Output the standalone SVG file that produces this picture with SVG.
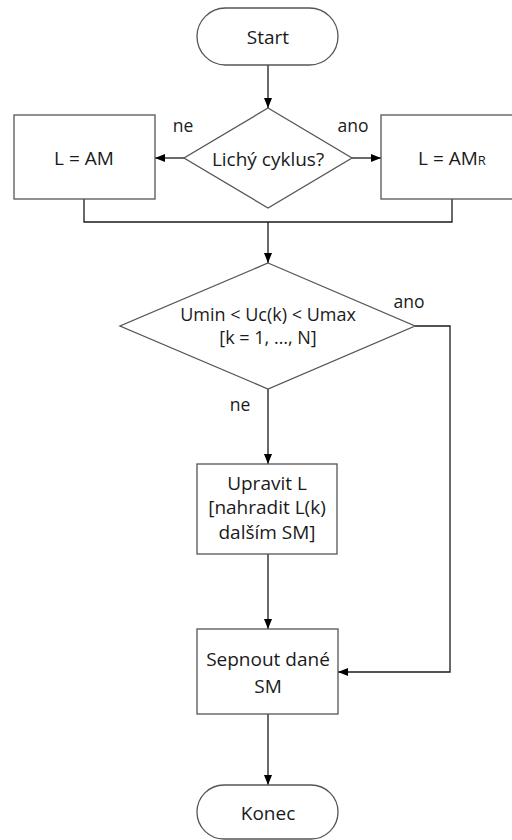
<svg xmlns="http://www.w3.org/2000/svg" width="512" height="840" viewBox="0 0 512 840">
  <style>
    .shape { fill: #ffffff; stroke: #555555; stroke-width: 1.3; }
    .conn { fill: none; stroke: #1a1a1a; stroke-width: 1.3; }
    text { font-family: "Open Sans", "Noto Sans", sans-serif; font-size: 19px; fill: #1a1a1a; text-anchor: middle; }
    .lbl { font-size: 17.5px; }
    .narrow { font-size: 18px; }
  </style>
  <defs>
    <marker id="arrow" viewBox="0 0 10 10" refX="10" refY="5" markerWidth="10" markerHeight="10" markerUnits="userSpaceOnUse" orient="auto">
      <path d="M0,1 L10,5 L0,9 z" fill="#000000"/>
    </marker>
  </defs>

  <rect width="512" height="840" fill="#ffffff"/>

  <g id="connectors">
    <line class="conn" x1="268" y1="65" x2="268" y2="108" marker-end="url(#arrow)"/>
    <line class="conn" x1="184" y1="158" x2="155" y2="158" marker-end="url(#arrow)"/>
    <line class="conn" x1="352" y1="158" x2="381" y2="158" marker-end="url(#arrow)"/>
    <polyline class="conn" points="84,199 84,222 452,222 452,199"/>
    <line class="conn" x1="268" y1="222" x2="268" y2="263" marker-end="url(#arrow)"/>
    <line class="conn" x1="268" y1="389" x2="268" y2="464" marker-end="url(#arrow)"/>
    <polyline class="conn" points="415,326 450,326 450,672 338,672" marker-end="url(#arrow)"/>
    <line class="conn" x1="268" y1="554" x2="268" y2="629" marker-end="url(#arrow)"/>
    <line class="conn" x1="268" y1="714" x2="268" y2="785" marker-end="url(#arrow)"/>
    <text class="lbl" x="183" y="132">ne</text>
    <text class="lbl" x="353" y="132">ano</text>
    <text class="lbl" x="409" y="308">ano</text>
    <text class="lbl" x="240" y="411">ne</text>
  </g>

  <g id="start">
    <rect class="shape" x="197" y="8" width="141" height="57" rx="28.5"/>
    <text x="268" y="44">Start</text>
  </g>

  <g id="decision-odd">
    <polygon class="shape" points="268,108 352,158 268,208 184,158"/>
    <text x="268" y="166">Lichý cyklus?</text>
  </g>

  <g id="set-am">
    <rect class="shape" x="14" y="115" width="141" height="84"/>
    <text x="84" y="165">L = AM</text>
  </g>

  <g id="set-amr">
    <rect class="shape" x="381" y="115" width="141" height="84"/>
    <text x="452" y="165">L = AM<tspan font-size="13">R</tspan></text>
  </g>

  <g id="decision-range">
    <polygon class="shape" points="268,263 415,326 268,389 120,326"/>
    <text class="narrow" x="268" y="321">Umin &lt; Uc(k) &lt; Umax</text>
    <text class="narrow" x="268" y="344">[k = 1, …, N]</text>
  </g>

  <g id="adjust-l">
    <rect class="shape" x="197" y="464" width="140" height="90"/>
    <text x="267" y="490">Upravit L</text>
    <text x="267" y="514">[nahradit L(k)</text>
    <text x="267" y="539">dalším SM]</text>
  </g>

  <g id="switch-sm">
    <rect class="shape" x="197" y="629" width="141" height="85"/>
    <text x="268" y="666">Sepnout dané</text>
    <text x="268" y="693">SM</text>
  </g>

  <g id="end">
    <rect class="shape" x="197" y="785" width="141" height="54" rx="27"/>
    <text x="268" y="820">Konec</text>
  </g>
</svg>
